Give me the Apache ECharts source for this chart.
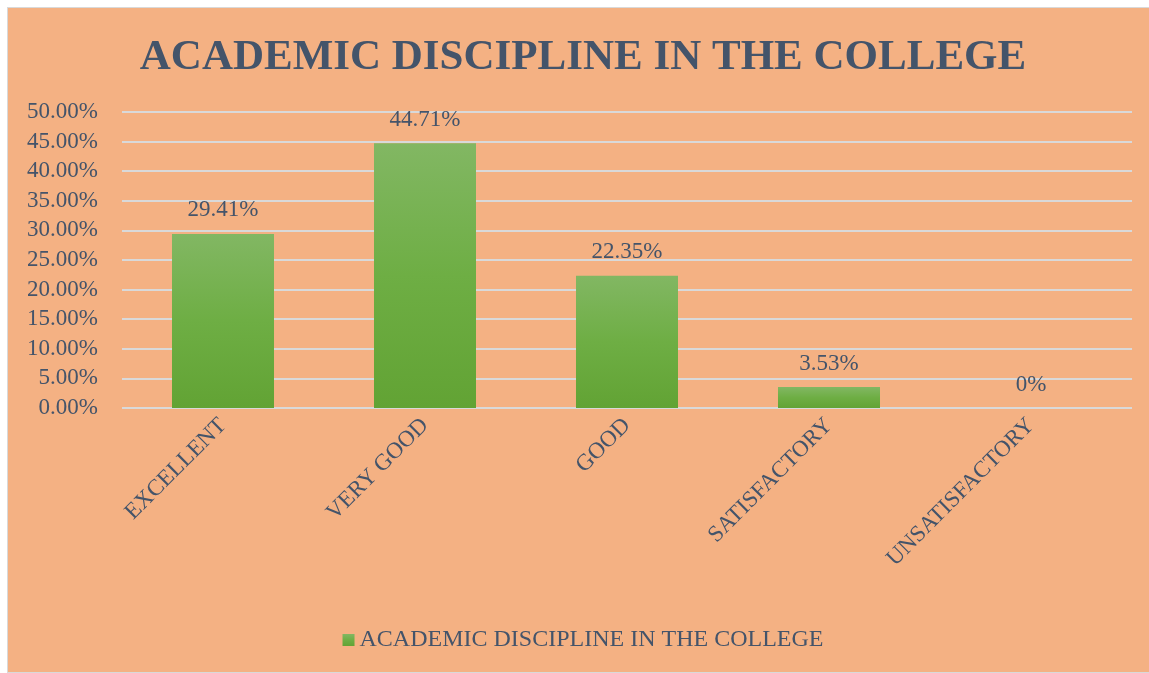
<!DOCTYPE html>
<html>
<head>
<meta charset="utf-8">
<title>Academic Discipline in the College</title>
<script src="https://cdn.jsdelivr.net/npm/echarts@6/dist/echarts.min.js"></script>
<style>
  html, body { margin: 0; padding: 0; background: #ffffff; overflow: hidden; }
  #chart {
    position: absolute;
    left: 7px;
    top: 7px;
    width: 1150px;
    height: 664px;
    border: 1px solid #d9d9d9;
    background: #f4b183;
  }
</style>
</head>
<body>
<div id="chart"></div>
<script>
// chart data
const categories = ['EXCELLENT', 'VERY GOOD', 'GOOD', 'SATISFACTORY', 'UNSATISFACTORY']
const values = [29.41, 44.71, 22.35, 3.53, 0]
const seriesName = 'ACADEMIC DISCIPLINE IN THE COLLEGE'
const yTicks = [0, 5, 10, 15, 20, 25, 30, 35, 40, 45, 50]

const textColor = '#44546a'
const fontFamily = '"Liberation Serif", "DejaVu Serif", serif'

const chart = echarts.init(document.getElementById('chart'))

const option = {
  backgroundColor: '#f4b183',
  textStyle: { fontFamily: fontFamily },
  title: {
    text: seriesName,
    left: 'center',
    top: 23,
    textStyle: {
      fontFamily: fontFamily,
      fontSize: 43,
      fontWeight: 'bold',
      color: textColor
    }
  },
  legend: {
    bottom: 15,
    left: 'center',
    itemWidth: 12,
    itemHeight: 12,
    itemGap: 10,
    icon: 'rect',
    textStyle: { fontFamily: fontFamily, fontSize: 24, color: textColor },
    data: [seriesName]
  },
  grid: {
    left: 114,
    right: 26,
    top: 104,
    bottom: 264
  },
  xAxis: {
    type: 'category',
    data: categories,
    axisLine: { show: false },
    axisTick: { show: false },
    axisLabel: {
      interval: 0,
      rotate: 45,
      margin: 14,
      fontFamily: fontFamily,
      fontSize: 23,
      color: textColor
    }
  },
  yAxis: {
    type: 'value',
    min: yTicks[0],
    max: yTicks[yTicks.length - 1],
    interval: 5,
    axisLine: { show: false },
    axisTick: { show: false },
    splitLine: { lineStyle: { color: '#d9d9d9', width: 2 } },
    axisLabel: {
      margin: 24,
      fontFamily: fontFamily,
      fontSize: 23,
      color: textColor,
      formatter: v => v.toFixed(2) + '%'
    }
  },
  series: [
    {
      name: seriesName,
      type: 'bar',
      data: values,
      barWidth: '50.5%',
      itemStyle: {
        color: new echarts.graphic.LinearGradient(0, 0, 0, 1, [
          { offset: 0, color: '#82b763' },
          { offset: 0.5, color: '#6eae44' },
          { offset: 1, color: '#62a334' }
        ])
      },
      label: {
        show: true,
        position: 'top',
        distance: 12,
        fontFamily: fontFamily,
        fontSize: 23,
        color: textColor,
        formatter: p => (p.value === 0 ? '0%' : p.value.toFixed(2) + '%')
      }
    }
  ]
}

chart.setOption(option)
window.addEventListener('resize', () => chart.resize())
</script>
</body>
</html>
